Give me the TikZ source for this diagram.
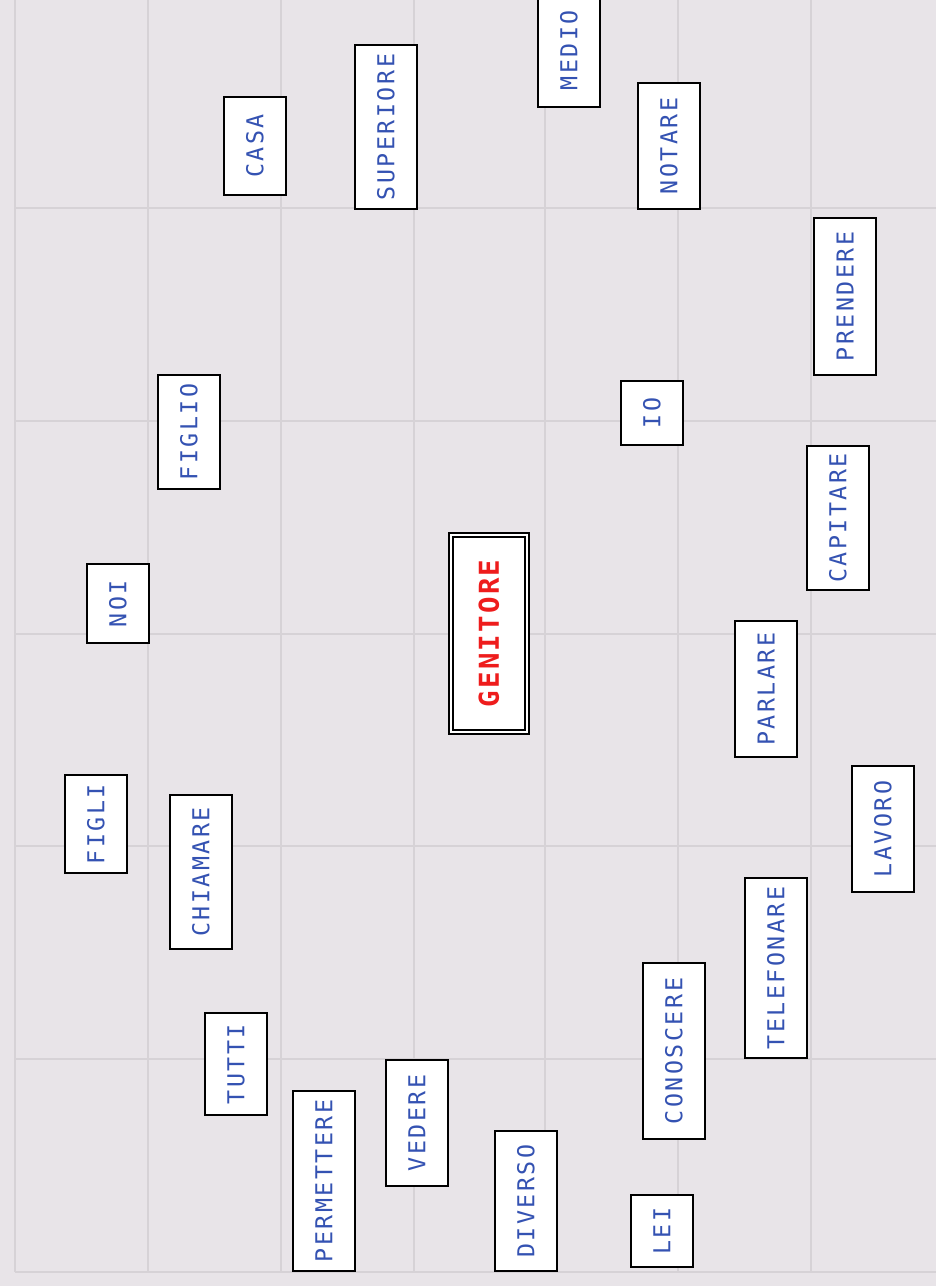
\documentclass[tikz,border=0pt]{standalone}
\usepackage{fontspec}
\newfontfamily\wordfont[LetterSpace=10.7]{DejaVu Sans Mono}
\newfontfamily\headfont[LetterSpace=8.2]{DejaVu Sans Mono}

\definecolor{paper}{RGB}{232,228,232}
\definecolor{gridgray}{RGB}{214,210,214}
\definecolor{wordblue}{RGB}{52,82,178}
\definecolor{headred}{RGB}{238,28,28}

\tikzset{
    gridline/.style={draw=gridgray, line width=1pt},
    word/.style={draw=black, line width=1pt, fill=white, rotate=90, inner sep=0pt,
        minimum height=31pt, text=wordblue,
        font=\wordfont\fontsize{11.65}{12}\selectfont},
    boxlen/.style={minimum width=#1*0.5pt-1pt},
    head/.style={draw=black, line width=1pt, double=white, double distance=1pt,
        fill=white, rotate=90, inner sep=0pt, minimum width=98.5pt, minimum height=38pt,
        text=headred, font=\headfont\bfseries\fontsize{13.7}{14}\selectfont}
}

\begin{document}
\begin{tikzpicture}[x=0.5pt, y=-0.5pt]
    % Paper
    \fill[paper] (0,0) rectangle (936,1286);
    \useasboundingbox (0,0) rectangle (936,1286);

    % Grid lines
    \foreach \gx in {15,148,281,414,545,678,811}
        \draw[gridline] (\gx,0) -- (\gx,1272);
    \foreach \gy in {208,421,634,846,1059,1272}
        \draw[gridline] (15,\gy) -- (936,\gy);

    % Central word
    \node[head] (genitore) at (489,633.5) {GENITORE};

    % Top row
    \node[word, boxlen=116] (medio) at (569,50) {MEDIO};
    \node[word, boxlen=128] (notare) at (669,146) {NOTARE};
    \node[word, boxlen=100] (casa) at (255,146) {CASA};
    \node[word, boxlen=166] (superiore) at (386,127) {SUPERIORE};
    \node[word, boxlen=159] (prendere) at (845,296.5) {PRENDERE};

    % Middle
    \node[word, boxlen=116] (figlio) at (189,432) {FIGLIO};
    \node[word, boxlen=66] (io) at (652,413) {IO};
    \node[word, boxlen=146] (capitare) at (838,518) {CAPITARE};
    \node[word, boxlen=81] (noi) at (118,603.5) {NOI};
    \node[word, boxlen=138] (parlare) at (766,689) {PARLARE};
    \node[word, boxlen=128] (lavoro) at (883,829) {LAVORO};
    \node[word, boxlen=100] (figli) at (96,824) {FIGLI};
    \node[word, boxlen=156] (chiamare) at (201,872) {CHIAMARE};

    % Bottom row
    \node[word, boxlen=182] (telefonare) at (776,968) {TELEFONARE};
    \node[word, boxlen=178] (conoscere) at (674,1051) {CONOSCERE};
    \node[word, boxlen=104] (tutti) at (236,1064) {TUTTI};
    \node[word, boxlen=128] (vedere) at (417,1123) {VEDERE};
    \node[word, boxlen=182] (permettere) at (324,1181) {PERMETTERE};
    \node[word, boxlen=142] (diverso) at (526,1201) {DIVERSO};
    \node[word, boxlen=74] (lei) at (662,1231) {LEI};
\end{tikzpicture}
\end{document}
